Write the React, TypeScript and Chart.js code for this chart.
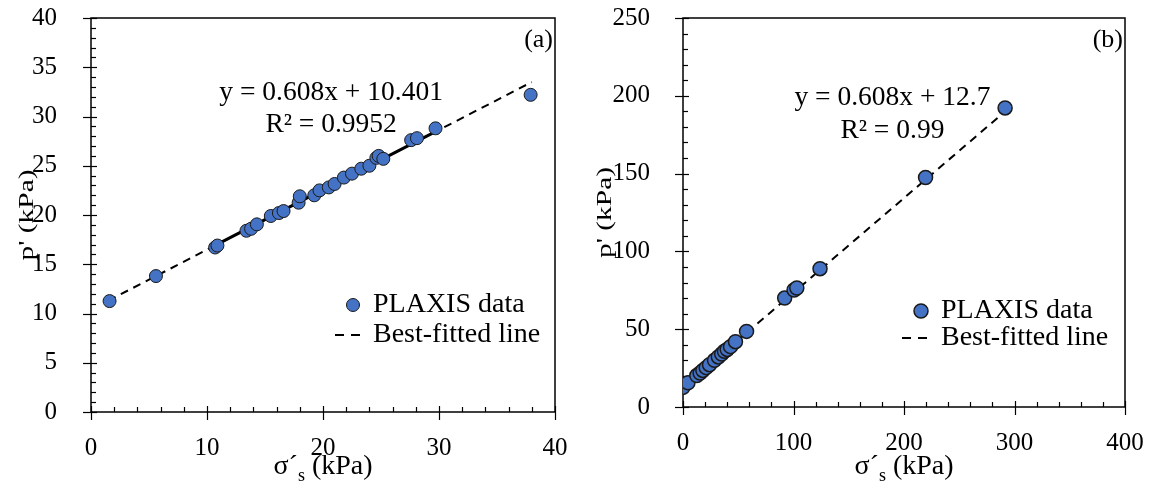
import React, { useEffect, useRef } from "react";
import { Chart, registerables } from "chart.js";
Chart.register(...registerables);

const FONT = '"Liberation Serif", "Times New Roman", serif';

// ---------- Panel (a) data ----------
const sigmaA = [1.6, 5.6, 10.7, 10.9, 13.4, 13.8, 14.3, 15.5, 16.2, 16.6, 17.9, 18.0, 19.25, 19.7, 20.5, 21.0, 21.8, 22.5, 23.3, 24.0, 24.6, 24.8, 25.2, 27.6, 28.1, 29.7, 37.9];
const pA = [11.26, 13.8, 16.7, 16.9, 18.4, 18.6, 19.05, 19.9, 20.2, 20.4, 21.25, 21.9, 22.0, 22.5, 22.8, 23.15, 23.8, 24.2, 24.7, 25.0, 25.8, 26.0, 25.7, 27.6, 27.8, 28.8, 32.2];
const fitSigmaA = [1.5, 38];
const fitPA = [11.31, 33.5];
const segSigmaA = [10.7, 29.7];
const segPA = [16.91, 28.46];

// ---------- Panel (b) data ----------
const sigmaB = [0, 4.5, 12.5, 15.5, 18, 21, 24, 28.5, 32, 35, 37.5, 40, 43, 47.5, 57.5, 92, 100.5, 103, 124, 219.5, 291.5];
const pB = [12.6, 15.6, 20.2, 21.8, 23.5, 25.3, 27.2, 30, 32.2, 34, 35.8, 37, 38.8, 42, 48.6, 70, 75.2, 76.5, 88.9, 147.5, 192.2];
const fitSigmaB = [0, 290];
const fitPB = [12.7, 189.0];

// ---------- Texts ----------
const legendLabels = ["PLAXIS data", "Best-fitted line"];
const eqA = ["y = 0.608x + 10.401", "R² = 0.9952"];
const eqB = ["y = 0.608x + 12.7", "R² = 0.99"];
const yTitle = "p' (kPa)";

const toPts = (xs: number[], ys: number[]) => xs.map((x, i) => ({ x, y: ys[i] }));

type Cfg = {
  label: string;
  eq: string[];
  eqX: number;
  eqY1: number;
  eqY2: number;
  xMajor: number;
  xMinor: number;
  yMajor: number;
  yMinor: number;
  yTitleX: number;
  xTitleY: number;
  legMarkerDx: number;
  legTextDx: number;
  legLine: [number, number];
  legRow1Dy: number;
  legRow2Dy: number;
  markerR: number;
  markerBW: number;
};

function isMajor(v: number, step: number) {
  return Math.abs(v / step - Math.round(v / step)) < 1e-6;
}

function makePlugin(cfg: Cfg) {
  return {
    id: "decor",
    beforeDatasetsDraw(chart: any) {
      const { ctx, chartArea: a, scales } = chart;
      const xs = scales.x;
      const ys = scales.y;
      ctx.save();
      ctx.strokeStyle = "#000";
      ctx.lineWidth = 1.5;
      ctx.strokeRect(a.left, a.top, a.right - a.left, a.bottom - a.top);
      ctx.lineWidth = 1.2;
      for (let v = ys.min; v <= ys.max + 1e-9; v += cfg.yMinor) {
        const py = Math.round(ys.getPixelForValue(v)) + 0.5;
        const mj = isMajor(v, cfg.yMajor);
        ctx.beginPath();
        ctx.moveTo(a.left - (mj ? 8 : 0), py);
        ctx.lineTo(a.left + (mj ? 6 : 5), py);
        ctx.stroke();
      }
      for (let v = xs.min; v <= xs.max + 1e-9; v += cfg.xMinor) {
        const px = Math.round(xs.getPixelForValue(v)) + 0.5;
        const mj = isMajor(v, cfg.xMajor);
        ctx.beginPath();
        ctx.moveTo(px, a.bottom + (mj ? 8 : 0));
        ctx.lineTo(px, a.bottom - (mj ? 6 : 5));
        ctx.stroke();
      }
      ctx.restore();
    },
    afterDraw(chart: any) {
      const { ctx, chartArea: a, scales } = chart;
      const xs = scales.x;
      const ys = scales.y;
      ctx.save();
      ctx.fillStyle = "#000";
      ctx.textBaseline = "middle";

      // Panel label
      ctx.font = `26px ${FONT}`;
      ctx.textAlign = "right";
      ctx.fillText(cfg.label, a.right - 2, a.top + 22);

      // Equation
      ctx.font = `27.5px ${FONT}`;
      ctx.textAlign = "center";
      const ex = xs.getPixelForValue(cfg.eqX);
      ctx.fillText(cfg.eq[0], ex, ys.getPixelForValue(cfg.eqY1));
      ctx.fillText(cfg.eq[1], ex, ys.getPixelForValue(cfg.eqY2));

      // Legend
      const r1 = a.top + cfg.legRow1Dy;
      const r2 = a.top + cfg.legRow2Dy;
      ctx.beginPath();
      ctx.arc(a.left + cfg.legMarkerDx, r1, cfg.markerR, 0, Math.PI * 2);
      ctx.fillStyle = "#4472C4";
      ctx.fill();
      ctx.strokeStyle = "#1a1a1a";
      ctx.lineWidth = cfg.markerBW;
      ctx.stroke();
      ctx.strokeStyle = "#000";
      ctx.lineWidth = 2.2;
      ctx.setLineDash([9, 7]);
      ctx.beginPath();
      ctx.moveTo(a.left + cfg.legLine[0], r2);
      ctx.lineTo(a.left + cfg.legLine[1], r2);
      ctx.stroke();
      ctx.setLineDash([]);
      ctx.fillStyle = "#000";
      ctx.textAlign = "left";
      ctx.font = `28px ${FONT}`;
      ctx.fillText(legendLabels[0], a.left + cfg.legTextDx, r1);
      ctx.fillText(legendLabels[1], a.left + cfg.legTextDx, r2);

      // Y title (rotated, stretched along the text like the original)
      ctx.save();
      ctx.font = `21px ${FONT}`;
      ctx.translate(cfg.yTitleX, (a.top + a.bottom) / 2);
      ctx.rotate(-Math.PI / 2);
      ctx.scale(1.4, 1);
      ctx.textAlign = "center";
      ctx.fillText(yTitle, 0, 0);
      ctx.restore();

      // X title with subscript
      const big = `28px ${FONT}`;
      const small = `18px ${FONT}`;
      const p1 = "σ´";
      const p2 = "s";
      const p3 = " (kPa)";
      ctx.font = big;
      const w1 = ctx.measureText(p1).width;
      const w3 = ctx.measureText(p3).width;
      ctx.font = small;
      const w2 = ctx.measureText(p2).width;
      const total = w1 + w2 + w3;
      let x0 = (a.left + a.right) / 2 - total / 2;
      ctx.textAlign = "left";
      ctx.textBaseline = "alphabetic";
      const base = cfg.xTitleY;
      ctx.font = big;
      ctx.fillText(p1, x0, base);
      x0 += w1;
      ctx.font = small;
      ctx.fillText(p2, x0, base + 7);
      x0 += w2;
      ctx.font = big;
      ctx.fillText(p3, x0, base);
      ctx.restore();
    },
  };
}

function zeroPad(s: any) {
  s.paddingTop = 0;
  s.paddingBottom = 0;
  s.paddingLeft = 0;
  s.paddingRight = 0;
}

function buildConfig(
  pts: { x: number; y: number }[],
  lines: { x: number; y: number }[][],
  dashed: boolean[],
  widths: number[],
  xMax: number,
  xStep: number,
  yMax: number,
  yStep: number,
  yAxisW: number,
  xAxisH: number,
  padRight: number,
  yPad: number,
  cfg: Cfg
): any {
  const lineSets = lines.map((d, i) => ({
    type: "scatter",
    data: d,
    showLine: true,
    borderColor: "#000",
    borderWidth: widths[i],
    borderDash: dashed[i] ? [8, 6] : [],
    pointRadius: 0,
    order: 2,
  }));
  return {
    type: "scatter",
    data: {
      datasets: [
        {
          label: legendLabels[0],
          data: pts,
          pointRadius: cfg.markerR,
          pointBackgroundColor: "#4472C4",
          pointBorderColor: "#1a1a1a",
          pointBorderWidth: cfg.markerBW,
          order: 0,
        },
        ...lineSets,
      ],
    },
    options: {
      responsive: false,
      animation: false,
      layout: { padding: { top: 18, right: padRight, left: 0, bottom: 0 } },
      plugins: { legend: { display: false }, tooltip: { enabled: false } },
      scales: {
        x: {
          type: "linear",
          min: 0,
          max: xMax,
          ticks: { stepSize: xStep, color: "#000", font: { family: FONT, size: 25 }, padding: 13, maxRotation: 0 },
          grid: { display: false },
          border: { display: false },
          afterFit: (s: any) => {
            s.height = xAxisH;
            zeroPad(s);
          },
        },
        y: {
          type: "linear",
          min: 0,
          max: yMax,
          ticks: { stepSize: yStep, color: "#000", font: { family: FONT, size: 25 }, padding: yPad },
          grid: { display: false },
          border: { display: false },
          afterFit: (s: any) => {
            s.width = yAxisW;
            zeroPad(s);
          },
        },
      },
    },
    plugins: [makePlugin(cfg)],
  };
}

function Panel(props: { build: () => any; width: number; left: number }) {
  const ref = useRef<HTMLCanvasElement>(null);
  useEffect(() => {
    if (!ref.current) return;
    const chart = new Chart(ref.current, props.build());
    return () => chart.destroy();
  }, []);
  return (
    <canvas
      ref={ref}
      width={props.width}
      height={483}
      style={{ position: "absolute", left: props.left, top: 0, width: props.width, height: 483 }}
    />
  );
}

const cfgA: Cfg = {
  label: "(a)",
  eq: eqA,
  eqX: 20.7,
  eqY1: 32.4,
  eqY2: 29.2,
  xMajor: 10,
  xMinor: 2,
  yMajor: 5,
  yMinor: 1,
  yTitleX: 27,
  xTitleY: 474,
  legMarkerDx: 262,
  legTextDx: 282,
  legLine: [244, 273],
  legRow1Dy: 287,
  legRow2Dy: 317,
  markerR: 6.5,
  markerBW: 1,
};

const cfgB: Cfg = {
  label: "(b)",
  eq: eqB,
  eqX: 189.5,
  eqY1: 198.8,
  eqY2: 177.6,
  xMajor: 100,
  xMinor: 20,
  yMajor: 50,
  yMinor: 10,
  yTitleX: 605 - 577,
  xTitleY: 474,
  legMarkerDx: 238,
  legTextDx: 258,
  legLine: [219, 248],
  legRow1Dy: 293,
  legRow2Dy: 320,
  markerR: 7,
  markerBW: 1.5,
};

export default function App() {
  return (
    <div style={{ position: "absolute", left: 0, top: 0, width: 1155, height: 483, background: "#fff" }}>
      <Panel
        width={577}
        left={0}
        build={() =>
          buildConfig(
            toPts(sigmaA, pA),
            [toPts(fitSigmaA, fitPA), toPts(segSigmaA, segPA)],
            [true, false],
            [2, 3],
            40,
            10,
            40,
            5,
            91,
            71,
            22,
            26,
            cfgA
          )
        }
      />
      <Panel
        width={578}
        left={577}
        build={() =>
          buildConfig(
            toPts(sigmaB, pB),
            [toPts(fitSigmaB, fitPB)],
            [true],
            [2],
            400,
            100,
            250,
            50,
            106,
            76,
            30,
            25,
            cfgB
          )
        }
      />
    </div>
  );
}
